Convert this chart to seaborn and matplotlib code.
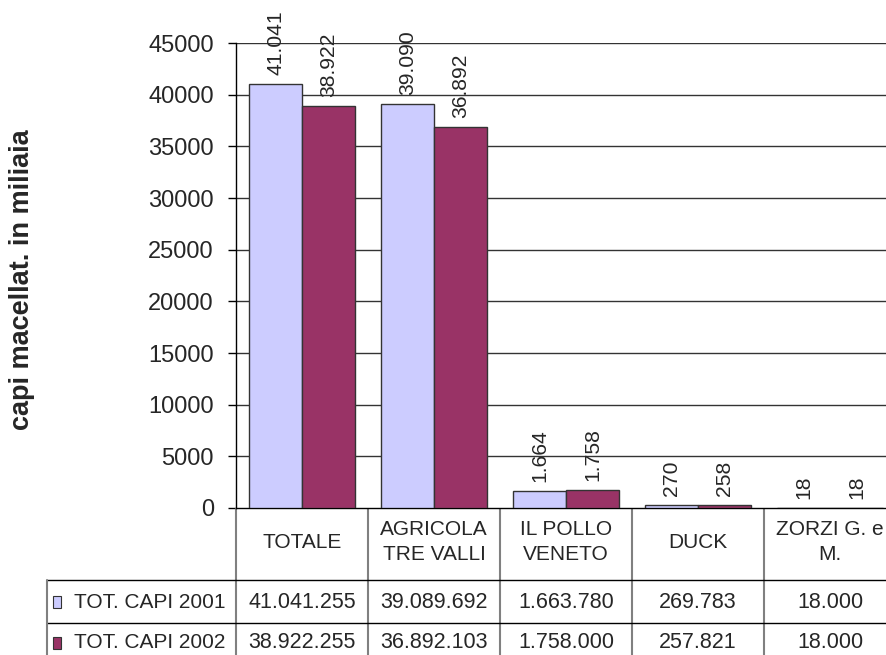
import matplotlib
matplotlib.use("Agg")
import matplotlib.pyplot as plt
import seaborn as sns
import pandas as pd
from matplotlib.patches import Rectangle

categories = ["TOTALE", "AGRICOLA\nTRE VALLI", "IL POLLO\nVENETO", "DUCK", "ZORZI G. e\nM."]
series_names = ["TOT. CAPI 2001", "TOT. CAPI 2002"]
capi_2001 = [41041255, 39089692, 1663780, 269783, 18000]
capi_2002 = [38922255, 36892103, 1758000, 257821, 18000]
yticks = [0, 5000, 10000, 15000, 20000, 25000, 30000, 35000, 40000, 45000]
colors = ["#CCCCFF", "#993366"]


def it_fmt(v):
    return f"{v:,}".replace(",", ".")


rows = []
for s, vals in zip(series_names, [capi_2001, capi_2002]):
    for c, v in zip(categories, vals):
        rows.append({"cat": c, "serie": s, "val": v / 1000.0})
df = pd.DataFrame(rows)

sns.set_style("white")
plt.rcParams["font.family"] = ["Liberation Sans", "DejaVu Sans"]

W, H = 886, 655
fig = plt.figure(figsize=(W / 100, H / 100), dpi=100)
x0, x1, ytop, ybot = 236, 896, 43, 508
ax = fig.add_axes([x0 / W, (H - ybot) / H, (x1 - x0) / W, (ybot - ytop) / H])

sns.barplot(data=df, x="cat", y="val", hue="serie", palette=colors, ax=ax,
            width=0.8, saturation=1, edgecolor="#333333", linewidth=1,
            legend=False, zorder=3)

ax.set_ylim(0, 45000)
ax.set_xlim(-0.5, len(categories) - 0.5)
ax.set_yticks(yticks)
ax.set_yticklabels([str(t) for t in yticks], fontsize=17)
ax.set_xticks([])
ax.set_xlabel("")
ax.set_ylabel("capi macellat. in miliaia", fontsize=19.5, fontweight="bold")
ax.yaxis.set_label_coords((35 - x0) / (x1 - x0), (ybot - 280) / (ybot - ytop))
ax.tick_params(axis="y", length=6, width=1, color="black", direction="out", pad=10, left=True)
for y in yticks[1:]:
    ax.axhline(y, color="#333333", lw=1, zorder=1)
for s in ["top", "right"]:
    ax.spines[s].set_visible(False)
ax.spines["left"].set_color("black")
ax.spines["bottom"].set_color("black")
ax.spines["left"].set_linewidth(1)
ax.spines["bottom"].set_linewidth(1)

# value labels
for i, cont in enumerate(ax.containers):
    vals = [capi_2001, capi_2002][i]
    for bar, v in zip(cont.patches, vals):
        lab = it_fmt(round(v / 1000))
        ax.annotate(lab, (bar.get_x() + bar.get_width() / 2, bar.get_height()),
                    xytext=(0, 6.5), textcoords="offset points", rotation=90,
                    ha="center", va="bottom", fontsize=15.2, annotation_clip=False)

# data table
tr = ax.transAxes
def ay(py):
    return (ybot - py) / (ybot - ytop)
def ax_(px):
    return (px - x0) / (x1 - x0)

r1, r2, r3 = ay(580), ay(623), ay(666)
n = len(categories)
for k in range(n + 1):
    ax.plot([k / n, k / n], [0, r3], transform=tr, color="#808080", lw=1.5,
            clip_on=False, solid_capstyle="butt")
xl = ax_(47)
for yy in [r1, r2, r3]:
    ax.plot([xl, 1], [yy, yy], transform=tr, color="black", lw=1, clip_on=False)
ax.plot([xl, xl], [r1, r3], transform=tr, color="#808080", lw=1.5, clip_on=False)

for k, c in enumerate(categories):
    ax.text((k + 0.5) / n, ay(542), c, transform=tr, ha="center", va="center",
            fontsize=15, linespacing=1.45, clip_on=False)
for row, (s, vals, col) in enumerate(zip(series_names, [capi_2001, capi_2002], colors)):
    yc = [ay(602), ay(643)][row]
    ax.text(ax_(74), yc, s, transform=tr, ha="left", va="center", fontsize=15, clip_on=False)
    ax.add_patch(Rectangle((ax_(53), yc - 6 / (ybot - ytop)), 8 / (x1 - x0), 12 / (ybot - ytop),
                           transform=tr, facecolor=col, edgecolor="#333333", lw=0.8,
                           clip_on=False))
    for k, v in enumerate(vals):
        ax.text((k + 0.5) / n, yc, it_fmt(v), transform=tr, ha="center", va="center",
                fontsize=15.5, clip_on=False)

fig.savefig("out.png", dpi=100)
